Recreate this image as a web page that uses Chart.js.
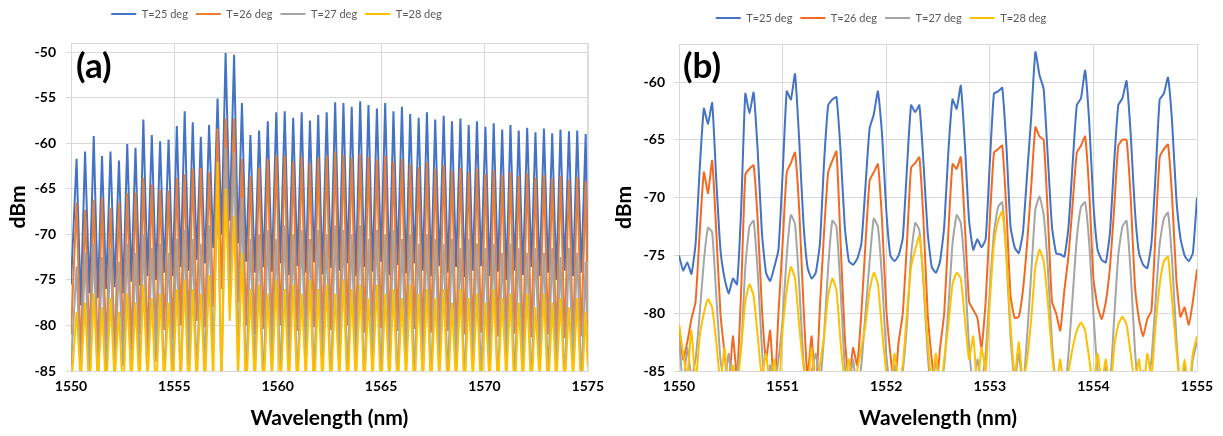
<!DOCTYPE html>
<html>
<head>
<meta charset="utf-8">
<script src="https://cdn.jsdelivr.net/npm/chart.js@4.4.1/dist/chart.umd.min.js"></script>
<style>
  html, body { margin: 0; padding: 0; background: #fff; }
  #wrap { position: relative; width: 1223px; height: 436px; }
  canvas { position: absolute; top: 0; }
  #chartA { left: 0; }
  #chartB { left: 611px; }
  .tag { position: absolute; font: bold 35px Lato, sans-serif; line-height: 35px; color: #000; }
</style>
</head>
<body>
<div id="wrap">
  <canvas id="chartA" width="611" height="436"></canvas>
  <canvas id="chartB" width="612" height="436"></canvas>
  <div class="tag" style="left:76px; top:47px;">(a)</div>
  <div class="tag" style="left:683px; top:47px;">(b)</div>
</div>
<script>
const seriesLabels = ['T=25 deg', 'T=26 deg', 'T=27 deg', 'T=28 deg'];

// panel (a): 1550-1575 nm, comb peaks and the valleys between them
const peakWlA = [
  1550.27, 1550.68, 1551.10, 1551.50, 1551.91, 1552.32, 1552.72, 1553.12, 1553.50, 1553.91,
  1554.31, 1554.72, 1555.12, 1555.50, 1555.89, 1556.28, 1556.68, 1557.09, 1557.48, 1557.89,
  1558.27, 1558.68, 1559.10, 1559.52, 1559.93, 1560.34, 1560.75, 1561.16, 1561.56, 1561.96,
  1562.37, 1562.78, 1563.18, 1563.58, 1563.99, 1564.39, 1564.80, 1565.20, 1565.60, 1566.01,
  1566.41, 1566.82, 1567.22, 1567.62, 1568.03, 1568.43, 1568.84, 1569.24, 1569.64, 1570.05,
  1570.45, 1570.86, 1571.26, 1571.66, 1572.07, 1572.47, 1572.88, 1573.28, 1573.68, 1574.09,
  1574.49, 1574.90
];
const valleyWlA = [
  1550.00, 1550.47, 1550.89, 1551.30, 1551.70, 1552.11, 1552.52, 1552.92, 1553.31, 1553.70,
  1554.11, 1554.51, 1554.92, 1555.31, 1555.69, 1556.08, 1556.48, 1556.88, 1557.28, 1557.68,
  1558.08, 1558.47, 1558.89, 1559.31, 1559.72, 1560.13, 1560.54, 1560.95, 1561.36, 1561.76,
  1562.16, 1562.57, 1562.98, 1563.38, 1563.78, 1564.19, 1564.59, 1565.00, 1565.40, 1565.80,
  1566.21, 1566.61, 1567.02, 1567.42, 1567.82, 1568.23, 1568.63, 1569.04, 1569.44, 1569.84,
  1570.25, 1570.65, 1571.06, 1571.46, 1571.86, 1572.27, 1572.67, 1573.08, 1573.48, 1573.88,
  1574.29, 1574.69, 1575.00
];

const blueTopA = [
  -61.7, -60.9, -59.2, -61.4, -60.9, -61.9, -60.1, -60.5, -57.4, -59.1,
  -59.8, -59.6, -58.1, -56.5, -57.7, -59.3, -58.0, -55.1, -50.1, -50.3,
  -55.6, -59.1, -58.6, -57.6, -56.6, -56.5, -57.2, -56.6, -57.5, -56.9,
  -56.6, -55.5, -55.6, -56.0, -55.4, -55.8, -56.2, -55.6, -56.5, -56.0,
  -56.8, -57.2, -56.6, -57.4, -57.0, -57.6, -57.3, -58.0, -57.6, -58.2,
  -57.8, -58.5, -58.0, -58.6, -58.3, -58.8, -58.4, -58.9, -58.5, -58.7,
  -58.6, -59.0
];
const blueLowA = [
  -75.5, -77.8, -76.5, -77.0, -76.0, -75.8, -76.5, -75.2, -75.6, -74.6,
  -75.0, -74.2, -74.6, -73.6, -74.0, -72.8, -73.2, -71.5, -70.0, -68.5,
  -71.0, -73.0, -74.2, -73.6, -74.1, -73.2, -74.5, -73.5, -74.2, -73.1,
  -74.4, -73.7, -74.0, -73.2, -74.6, -73.6, -74.1, -73.0, -74.5, -73.4,
  -74.3, -73.2, -74.0, -74.6, -73.5, -74.2, -73.6, -74.7, -74.0, -73.5,
  -74.6, -74.1, -75.0, -74.0, -74.5, -73.6, -74.6, -74.2, -75.0, -74.0,
  -74.6, -74.2, -73.0
];
const orangeTopA = [
  -66.5, -67.3, -66.2, -66.0, -67.1, -66.5, -65.5, -65.4, -63.8, -64.5,
  -65.1, -65.2, -63.8, -63.4, -62.8, -62.7, -63.2, -58.4, -57.3, -57.3,
  -61.7, -63.6, -62.7, -61.7, -61.3, -61.4, -62.0, -61.5, -62.2, -61.6,
  -61.4, -61.0, -61.3, -61.6, -61.2, -61.5, -61.8, -61.4, -62.0, -61.7,
  -62.3, -62.6, -62.1, -62.8, -62.4, -63.0, -62.7, -63.2, -62.8, -63.4,
  -63.0, -63.5, -63.2, -63.6, -63.3, -63.8, -63.5, -63.9, -63.6, -64.0,
  -63.7, -64.2
];
const orangeLowA = [
  -81.0, -83.5, -82.0, -84.0, -82.5, -83.0, -81.5, -82.8, -81.0, -82.5,
  -81.8, -80.5, -81.5, -80.0, -80.8, -79.5, -80.2, -78.0, -76.0, -74.0,
  -77.5, -80.0, -81.0, -80.4, -81.2, -80.0, -81.5, -80.6, -81.0, -80.2,
  -81.4, -80.5, -81.2, -80.0, -81.6, -80.8, -81.2, -80.3, -81.5, -80.6,
  -81.3, -80.4, -81.8, -80.8, -81.4, -80.6, -82.0, -81.0, -81.5, -80.8,
  -82.0, -81.2, -81.6, -80.9, -82.2, -81.3, -81.8, -81.0, -82.3, -81.4,
  -81.9, -81.2, -80.0
];
const grayTopA = [
  -73.5, -72.0, -71.0, -72.5, -71.5, -73.0, -71.0, -72.0, -70.0, -71.5,
  -71.0, -72.0, -70.5, -69.5, -70.5, -71.0, -69.0, -64.5, -60.5, -61.0,
  -66.0, -70.5, -70.0, -69.5, -70.5, -69.0, -70.0, -69.5, -70.5, -69.5,
  -70.0, -69.0, -69.5, -70.0, -69.0, -70.5, -69.5, -70.0, -69.5, -70.5,
  -70.0, -71.0, -70.0, -70.5, -71.0, -70.5, -71.5, -70.5, -71.0, -71.5,
  -71.0, -72.0, -71.0, -71.5, -72.0, -71.5, -72.0, -71.5, -72.5, -71.5,
  -72.0, -73.0
];
const grayLowA = [
  -84.5, -86.5, -85.0, -87.0, -85.5, -86.0, -84.5, -87.0, -85.0, -86.5,
  -84.0, -86.5, -85.5, -87.0, -84.5, -86.0, -85.0, -83.0, -87.0, -78.0,
  -84.0, -86.5, -85.0, -87.0, -84.5, -86.0, -85.5, -87.0, -84.0, -86.5,
  -85.0, -87.0, -84.5, -86.0, -85.5, -87.0, -84.0, -86.5, -85.0, -87.0,
  -84.5, -86.0, -85.5, -87.0, -84.0, -86.5, -85.0, -87.0, -84.5, -86.0,
  -85.5, -87.0, -84.0, -86.5, -85.0, -87.0, -84.5, -86.0, -85.5, -87.0,
  -84.0, -86.5, -83.5
];
const yellowTopA = [
  -78.5, -77.5, -76.5, -78.0, -77.0, -78.5, -76.5, -77.5, -75.5, -77.0,
  -76.5, -77.5, -76.0, -75.0, -76.0, -76.5, -74.5, -62.0, -65.0, -68.0,
  -72.0, -76.0, -75.5, -76.5, -75.0, -76.0, -75.5, -76.5, -75.0, -76.0,
  -75.5, -76.5, -75.0, -76.0, -75.5, -77.0, -75.5, -76.5, -76.0, -77.0,
  -75.5, -76.5, -76.0, -77.0, -76.0, -77.5, -76.0, -77.0, -76.5, -77.5,
  -76.0, -77.0, -76.5, -77.5, -76.5, -78.0, -76.5, -77.5, -77.0, -78.0,
  -77.0, -78.5
];
const yellowLowA = [
  -87.0, -86.0, -88.0, -86.5, -87.5, -86.0, -88.0, -86.5, -87.0, -86.0,
  -88.0, -86.5, -87.5, -86.0, -88.0, -86.5, -87.0, -86.0, -86.5, -79.5,
  -86.0, -88.0, -86.5, -87.5, -86.0, -88.0, -86.5, -87.0, -86.0, -88.0,
  -86.5, -87.5, -86.0, -88.0, -86.5, -87.0, -86.0, -88.0, -86.5, -87.5,
  -86.0, -88.0, -86.5, -87.0, -86.0, -88.0, -86.5, -87.5, -86.0, -88.0,
  -86.5, -87.0, -86.0, -88.0, -86.5, -87.5, -86.0, -88.0, -86.5, -87.0,
  -86.0, -88.0, -84.5
];

// panel (b): 1550-1555 nm zoom, sampled every 0.04 nm
const wavelengthB = [
  1550.00, 1550.04, 1550.08, 1550.12, 1550.16, 1550.20, 1550.24, 1550.28, 1550.32, 1550.36,
  1550.40, 1550.44, 1550.48, 1550.52, 1550.56, 1550.60, 1550.64, 1550.68, 1550.72, 1550.76,
  1550.80, 1550.84, 1550.88, 1550.92, 1550.96, 1551.00, 1551.04, 1551.08, 1551.12, 1551.16,
  1551.20, 1551.24, 1551.28, 1551.32, 1551.36, 1551.40, 1551.44, 1551.48, 1551.52, 1551.56,
  1551.60, 1551.64, 1551.68, 1551.72, 1551.76, 1551.80, 1551.84, 1551.88, 1551.92, 1551.96,
  1552.00, 1552.04, 1552.08, 1552.12, 1552.16, 1552.20, 1552.24, 1552.28, 1552.32, 1552.36,
  1552.40, 1552.44, 1552.48, 1552.52, 1552.56, 1552.60, 1552.64, 1552.68, 1552.72, 1552.76,
  1552.80, 1552.84, 1552.88, 1552.92, 1552.96, 1553.00, 1553.04, 1553.08, 1553.12, 1553.16,
  1553.20, 1553.24, 1553.28, 1553.32, 1553.36, 1553.40, 1553.44, 1553.48, 1553.52, 1553.56,
  1553.60, 1553.64, 1553.68, 1553.72, 1553.76, 1553.80, 1553.84, 1553.88, 1553.92, 1553.96,
  1554.00, 1554.04, 1554.08, 1554.12, 1554.16, 1554.20, 1554.24, 1554.28, 1554.32, 1554.36,
  1554.40, 1554.44, 1554.48, 1554.52, 1554.56, 1554.60, 1554.64, 1554.68, 1554.72, 1554.76,
  1554.80, 1554.84, 1554.88, 1554.92, 1554.96, 1555.00
];
const blueB = [
  -75.0, -76.3, -75.6, -76.6, -74.0, -67.5, -62.3, -63.6, -61.8, -68.5,
  -74.5, -77.0, -78.3, -77.0, -77.5, -71.0, -61.0, -62.7, -60.9, -66.0,
  -73.0, -76.5, -77.2, -76.0, -74.5, -68.0, -60.8, -61.5, -59.3, -65.0,
  -72.0, -76.0, -77.0, -76.5, -74.0, -67.0, -62.0, -61.5, -61.3, -66.0,
  -72.5, -75.5, -75.8, -75.3, -74.0, -69.0, -64.0, -62.8, -60.8, -64.5,
  -71.0, -75.0, -75.5, -75.0, -73.5, -67.5, -62.0, -62.6, -62.0, -67.0,
  -73.0, -76.0, -76.5, -75.5, -72.5, -66.0, -61.5, -62.3, -60.3, -65.5,
  -72.0, -74.5, -73.6, -74.3, -73.6, -67.0, -61.0, -60.8, -60.5, -65.5,
  -72.5, -74.3, -74.8, -73.0, -68.0, -63.0, -57.4, -59.4, -60.6, -66.5,
  -72.5, -74.8, -74.9, -75.1, -72.5, -67.0, -62.0, -61.4, -59.0, -63.5,
  -70.5, -74.5, -75.4, -75.6, -73.0, -67.0, -62.0, -61.4, -59.9, -64.5,
  -71.0, -74.8, -75.8, -76.1, -74.0, -68.0, -61.5, -61.0, -59.6, -63.5,
  -70.0, -73.5, -75.0, -75.5, -74.8, -70.0
];
const orangeB = [
  -81.0, -84.0, -82.5, -80.5, -79.0, -73.0, -67.8, -69.6, -66.8, -73.0,
  -80.0, -83.5, -86.5, -82.0, -85.5, -78.0, -68.0, -67.5, -67.2, -72.0,
  -79.5, -84.0, -81.5, -87.0, -80.0, -74.0, -67.8, -67.0, -66.1, -71.0,
  -79.0, -85.5, -82.0, -87.0, -79.5, -73.0, -67.8, -66.8, -66.0, -74.0,
  -82.0, -86.0, -83.0, -84.5, -80.0, -74.0, -68.5, -67.8, -67.1, -72.0,
  -79.5, -83.5, -86.5, -82.5, -80.0, -74.0, -67.4, -67.0, -66.5, -72.0,
  -80.0, -84.0, -87.0, -83.0, -80.0, -73.0, -67.1, -67.5, -66.5, -72.5,
  -79.0, -79.7, -80.4, -83.0, -79.0, -72.0, -66.1, -65.8, -65.5, -71.0,
  -78.5, -80.4, -80.3, -78.0, -74.0, -69.0, -63.9, -64.7, -65.0, -71.5,
  -79.0, -80.0, -81.5, -78.0, -75.0, -70.5, -66.1, -65.5, -64.7, -69.5,
  -77.0, -79.4, -80.5, -79.0, -76.0, -71.0, -65.5, -65.0, -65.0, -70.0,
  -77.5, -80.5, -82.0, -80.5, -79.8, -73.0, -66.5, -65.8, -65.4, -70.0,
  -77.0, -80.3, -79.5, -81.0, -79.0, -76.2
];
const grayB = [
  -82.0, -86.5, -83.0, -85.5, -84.0, -80.0, -75.5, -72.6, -73.0, -78.5,
  -84.0, -86.0, -83.5, -87.0, -85.0, -83.0, -76.0, -72.5, -72.0, -76.5,
  -83.0, -87.0, -84.5, -86.0, -84.0, -80.5, -75.0, -71.5, -72.3, -77.5,
  -84.0, -87.0, -85.0, -83.5, -86.0, -82.0, -76.0, -72.0, -72.5, -78.0,
  -84.5, -86.5, -84.0, -87.0, -84.5, -80.0, -75.5, -71.8, -72.5, -77.0,
  -83.5, -86.5, -84.5, -87.0, -85.0, -81.0, -75.0, -72.2, -72.8, -77.5,
  -83.5, -87.0, -84.0, -86.5, -84.5, -79.5, -74.0, -71.5, -72.2, -76.5,
  -83.0, -86.5, -84.0, -86.0, -83.5, -78.0, -73.0, -70.8, -70.4, -75.0,
  -82.0, -86.0, -83.5, -86.5, -82.0, -76.5, -71.0, -69.9, -71.5, -76.0,
  -82.5, -86.0, -85.5, -87.0, -83.5, -78.5, -73.5, -70.8, -70.4, -74.0,
  -80.0, -85.0, -87.0, -84.5, -86.0, -80.5, -75.0, -72.5, -72.0, -76.5,
  -83.0, -87.0, -85.0, -86.5, -84.0, -79.0, -74.0, -71.8, -71.3, -75.5,
  -82.0, -86.5, -84.5, -87.0, -84.0, -82.5
];
const yellowB = [
  -81.0, -83.5, -85.5, -81.5, -86.0, -82.0, -80.0, -78.8, -79.5, -82.5,
  -86.0, -83.0, -87.0, -84.5, -86.5, -83.0, -79.0, -77.5, -78.5, -82.0,
  -85.5, -83.5, -86.5, -84.0, -87.0, -81.5, -78.0, -76.0, -77.0, -81.0,
  -84.5, -86.5, -83.0, -87.0, -84.5, -82.0, -78.5, -77.0, -78.0, -82.5,
  -86.0, -84.0, -87.0, -85.0, -83.0, -81.0, -78.0, -76.5, -77.5, -81.5,
  -85.0, -87.0, -83.5, -86.0, -84.5, -80.0, -76.0, -74.5, -73.3, -77.0,
  -82.5, -86.0, -83.5, -87.0, -84.0, -81.0, -77.5, -76.5, -77.0, -80.5,
  -84.0, -82.0, -86.5, -83.0, -85.0, -79.0, -74.0, -72.0, -71.2, -75.0,
  -81.0, -85.5, -82.5, -86.0, -84.0, -80.5, -76.0, -74.5, -75.5, -79.0,
  -83.5, -86.5, -84.0, -87.0, -85.0, -83.0, -81.5, -80.8, -81.5, -84.0,
  -86.5, -83.5, -86.0, -84.0, -87.0, -83.0, -81.0, -80.3, -81.0, -83.5,
  -86.0, -84.0, -87.0, -83.5, -85.5, -81.0, -77.5, -75.5, -75.1, -79.0,
  -83.0, -86.5, -84.0, -86.5, -83.5, -82.0
];

Chart.defaults.font.family = 'Lato, "Open Sans", sans-serif';
Chart.defaults.animation = false;

// valley, peak, valley, peak ... for panel (a)
function combTrace(lows, tops) {
  const pts = [];
  for (let i = 0; i < lows.length; i++) {
    pts.push({ x: valleyWlA[i], y: lows[i] });
    if (i < tops.length) pts.push({ x: peakWlA[i], y: tops[i] });
  }
  return pts;
}
function sampledTrace(ys) {
  return wavelengthB.map((x, i) => ({ x: x, y: ys[i] }));
}

// light grey box round the plot area
const plotFrame = {
  id: 'plotFrame',
  beforeDatasetsDraw(chart) {
    const { ctx, chartArea: a } = chart;
    ctx.save();
    ctx.strokeStyle = '#d9d9d9';
    ctx.lineWidth = 1;
    ctx.strokeRect(Math.round(a.left) + 0.5, Math.round(a.top) + 0.5, a.width, a.height);
    ctx.restore();
  }
};
// moves the legend without touching the plot area
const legendNudge = {
  id: 'legendNudge',
  afterLayout(chart, args, opts) {
    const lg = chart.legend;
    if (!lg) return;
    lg.left += opts.dx; lg.right += opts.dx;
    lg.top += opts.dy; lg.bottom += opts.dy;
  }
};

function makeChart(id, p) {
  const tickFont = { size: 14, weight: 'bold' };
  const titleFont = { size: 21, weight: 'bold' };
  return new Chart(document.getElementById(id), {
    type: 'line',
    data: {
      datasets: p.traces.map((pts, i) => ({
        label: seriesLabels[i],
        data: pts,
        borderColor: p.colors[i],
        backgroundColor: p.colors[i],
        borderWidth: p.lineWidth,
        pointRadius: 0,
        tension: p.tension,
        fill: false,
        order: 3 - i
      }))
    },
    options: {
      responsive: false,
      layout: { padding: { left: 0, right: p.padRight, top: p.padTop, bottom: 0 } },
      plugins: {
        legend: {
          reverse: true,
          labels: {
            usePointStyle: true, pointStyle: 'line', pointStyleWidth: 25,
            padding: 8, color: '#595959', font: { size: 11 }
          }
        },
        tooltip: { enabled: false },
        legendNudge: { dx: p.legendDx, dy: p.legendDy }
      },
      scales: {
        x: {
          type: 'linear', min: p.xMin, max: p.xMax,
          ticks: { stepSize: p.xStep, padding: 7, color: '#000', font: tickFont, maxRotation: 0, autoSkip: false,
                   callback: v => String(v) },
          grid: { color: '#d9d9d9', drawTicks: false },
          border: { color: '#d9d9d9' },
          title: { display: true, text: 'Wavelength (nm)', color: '#000', font: titleFont, padding: { top: 0, bottom: 5 } },
          afterFit: s => { s.height = 65; }
        },
        y: {
          min: -85, max: p.yMax,
          ticks: { stepSize: 5, includeBounds: false, padding: p.yTickPad, color: '#000', font: tickFont,
                   callback: v => String(v) },
          grid: { color: '#d9d9d9', tickLength: 5 },
          border: { color: '#d9d9d9' },
          title: { display: true, text: 'dBm', color: '#000', font: titleFont, padding: { top: p.yTitlePad, bottom: 0 } },
          afterFit: s => { s.width = p.yWidth; }
        }
      }
    },
    plugins: [plotFrame, legendNudge]
  });
}

makeChart('chartA', {
  traces: [
    combTrace(blueLowA, blueTopA),
    combTrace(orangeLowA, orangeTopA),
    combTrace(grayLowA, grayTopA),
    combTrace(yellowLowA, yellowTopA)
  ],
  colors: ['#4472C4', '#ED7D31', '#A5A5A5', '#FFC000'],
  lineWidth: 2, tension: 0,
  xMin: 1550, xMax: 1575, xStep: 5, yMax: -49,
  yWidth: 71, yTickPad: 10, yTitlePad: 6,
  padTop: 14, padRight: 18, legendDx: -20, legendDy: -13.5
});

makeChart('chartB', {
  traces: [sampledTrace(blueB), sampledTrace(orangeB), sampledTrace(grayB), sampledTrace(yellowB)],
  colors: ['#4472C4', '#F26A21', '#A5A5A5', '#FFC000'],
  lineWidth: 2, tension: 0.15,
  xMin: 1550, xMax: 1555, xStep: 1, yMax: -56.7,
  yWidth: 68, yTickPad: 9, yTitlePad: 1,
  padTop: 15, padRight: 26, legendDx: -23, legendDy: -10.5
});
</script>
</body>
</html>
